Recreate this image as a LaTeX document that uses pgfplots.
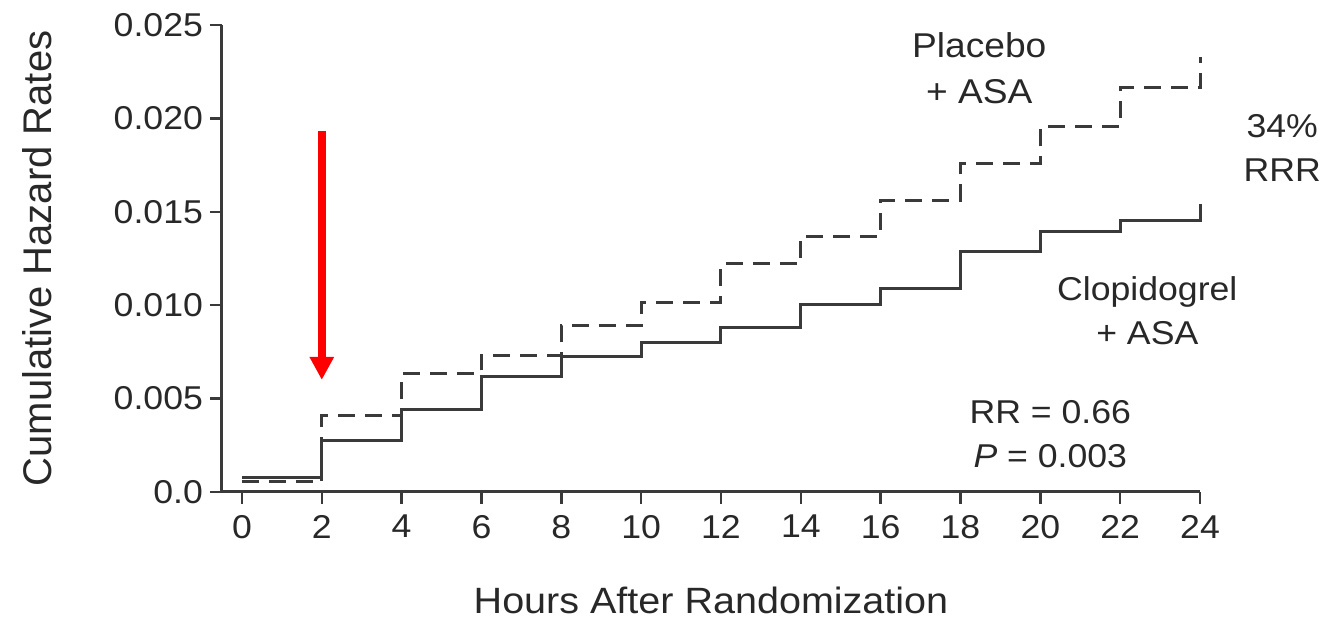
\documentclass[border=0pt]{standalone}
\usepackage{pgfplots}
\pgfplotsset{compat=1.18}
\usetikzlibrary{arrows.meta}
\usepackage{fontspec}
\setmainfont[FakeStretch=1.08]{Liberation Sans}
\newfontfamily\ylabfont{Liberation Sans}
\definecolor{lc}{RGB}{58,58,58}
\definecolor{tc}{RGB}{40,40,40}
\begin{document}
\begin{tikzpicture}
\begin{axis}[
  scale only axis, width=489pt, height=233.5pt,
  xmin=-0.5, xmax=24, ymin=0, ymax=0.025,
  axis lines=left,
  axis line style={-, line width=1.5pt, color=lc},
  xtick={0,2,...,24},
  ytick={0,0.005,0.01,0.015,0.02,0.025},
  yticklabels={0.0,0.005,0.010,0.015,0.020,0.025},
  scaled y ticks=false,
  tick align=outside, major tick length=6pt,
  tick style={line width=1.2pt, color=lc},
  /pgf/number format/assume math mode=true,
  ticklabel style={font=\fontsize{16.5}{20}\selectfont, text=tc},
  xticklabel style={yshift=-2pt},
  xlabel={Hours After Randomization},
  ylabel={Cumulative Hazard Rates},
  xlabel style={at={(axis description cs:0.5,-0.233)}, anchor=center, inner sep=0pt, font=\fontsize{18.3}{22}\selectfont, text=tc},
  ylabel style={at={(axis description cs:-0.189,0.5)}, anchor=center, inner sep=0pt, font=\ylabfont\fontsize{20}{24}\selectfont, text=tc},
  clip=false,
]
\coordinate (O) at (rel axis cs:0,0);
% Placebo + ASA (dashed)
\addplot[const plot, color=lc, line width=1.5pt, dash pattern=on 8.5pt off 5pt] coordinates {
  (0,0.00054) (2,0.00407) (4,0.00637) (6,0.00733) (8,0.00889) (10,0.01017)
  (12,0.01221) (14,0.01370) (16,0.01563) (18,0.01761) (20,0.01954) (22,0.02163) (24,0.02329)
};
% Clopidogrel + ASA (solid)
\addplot[const plot, color=lc, line width=1.5pt] coordinates {
  (0,0.00080) (2,0.00273) (4,0.00439) (6,0.00616) (8,0.00723) (10,0.00798)
  (12,0.00878) (14,0.01006) (16,0.01092) (18,0.01285) (20,0.01392) (22,0.01451) (24,0.01542)
};
\draw[color=red, line width=4pt, -{Triangle[length=11.5pt,width=11.5pt]}] (axis cs:2,0.01934) -- (axis cs:2,0.00600);
\node[font=\fontsize{17.2}{23}\selectfont, align=center, text=tc] at (axis cs:18.47,0.02267) {Placebo\\+ ASA};
\node[font=\fontsize{16.5}{22}\selectfont, align=center, text=tc, inner sep=0pt] at (axis cs:26.06,0.01839) {34\%\\RRR};
\node[font=\fontsize{16.5}{22}\selectfont, align=center, text=tc] at (axis cs:22.68,0.00969) {Clopidogrel\\+ ASA};
\node[font=\fontsize{16.5}{22}\selectfont, align=center, text=tc] at (axis cs:20.25,0.0031) {RR = 0.66\\\textit{P} = 0.003};
\end{axis}
\pgfresetboundingbox
\path (O) ++(-111pt,-63.5pt) rectangle ++(663pt,309.5pt);
\end{tikzpicture}
\end{document}
